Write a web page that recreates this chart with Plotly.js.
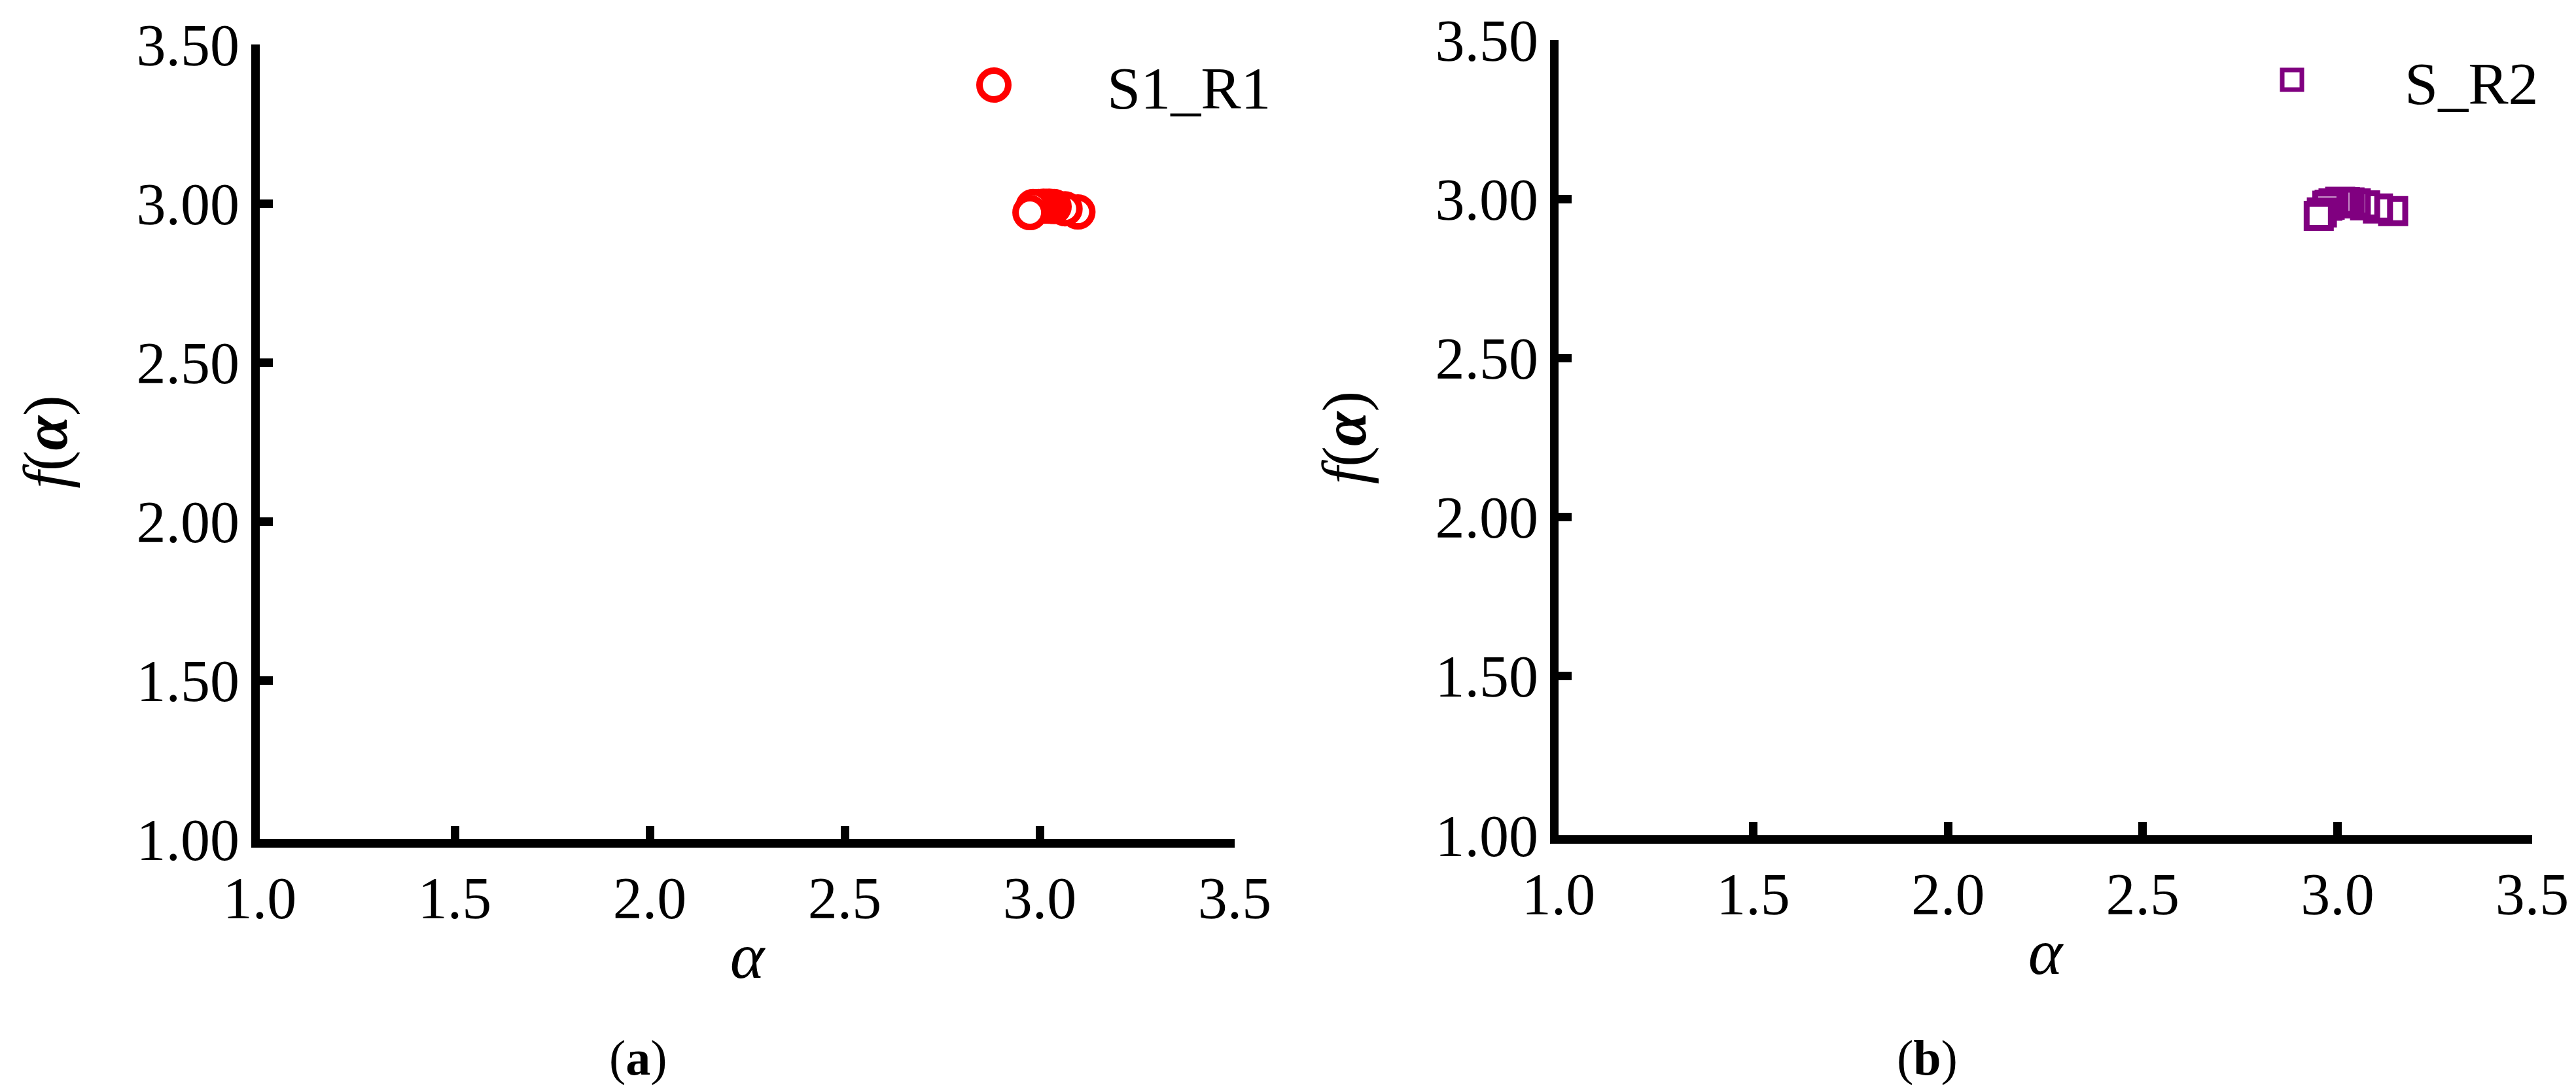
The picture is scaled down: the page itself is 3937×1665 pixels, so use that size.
<!DOCTYPE html>
<html>
<head>
<meta charset="utf-8">
<script src="https://cdn.plot.ly/plotly-3.0.1.min.js"></script>
<style>
  html, body { margin: 0; padding: 0; background: #fff; }
  #vis { width: 3937px; height: 1665px; }
</style>
</head>
<body>
<div id="vis"></div>
<script>
// multifractal spectrum points, drawn from large alpha to small alpha
const alphaS1R1 = [3.098, 3.065, 3.037, 3.024, 3.010, 2.997, 2.983, 2.975]
const fS1R1     = [2.973, 2.983, 2.990, 2.991, 2.991, 2.990, 2.990, 2.971]

const alphaSR2 = [3.143, 3.104, 3.071, 3.047, 3.031, 3.019, 3.007, 2.990, 2.980, 2.974, 2.960, 2.952]
const fSR2     = [2.962, 2.970, 2.980, 2.986, 2.989, 2.990, 2.991, 2.986, 2.982, 2.979, 2.958, 2.947]

const xTicks = [1.0, 1.5, 2.0, 2.5, 3.0, 3.5]
const yTicks = [1.0, 1.5, 2.0, 2.5, 3.0, 3.5]
const seriesNames = ['S1_R1', 'S_R2']
const panelLabels = ['(<b>a</b>)', '(<b>b</b>)']

const W = 3937, H = 1665
const serif = 'Liberation Serif'

const trace1 = {
  x: alphaS1R1,
  y: fS1R1,
  xaxis: 'x', yaxis: 'y',
  type: 'scatter',
  mode: 'markers',
  name: seriesNames[0],
  marker: { symbol: 'circle', size: 44, color: '#ffffff', line: { color: '#ff0000', width: 10 } }
}

const trace2 = {
  x: alphaSR2,
  y: fSR2,
  xaxis: 'x2', yaxis: 'y2',
  type: 'scatter',
  mode: 'markers',
  name: seriesNames[1],
  marker: { symbol: 'square', size: 37, color: '#ffffff', line: { color: '#800080', width: 9 } }
}

function xAxis(domain, anchor) {
  return {
    domain: domain, anchor: anchor,
    range: [1, 3.5], tickvals: xTicks, tickformat: '.1f',
    showgrid: false, zeroline: false,
    showline: true, linecolor: '#000', linewidth: 13,
    ticks: 'inside', ticklen: 20, tickwidth: 13, tickcolor: '#000',
    tickfont: { family: serif, size: 90, color: '#000' },
    title: { text: '<i>α</i>', font: { family: serif, size: 100, color: '#000' }, standoff: 8 }
  }
}

function yAxis(domain, anchor) {
  return {
    domain: domain, anchor: anchor,
    range: [1, 3.5], tickvals: yTicks, tickformat: '.2f',
    showgrid: false, zeroline: false,
    showline: true, linecolor: '#000', linewidth: 13,
    ticks: 'inside', ticklen: 20, tickwidth: 13, tickcolor: '#000',
    tickfont: { family: serif, size: 90, color: '#000' },
    title: { text: '<i>f</i>(<b><i>α</i></b>)', font: { family: serif, size: 95, color: '#000' }, standoff: 80 }
  }
}

const px = v => v / W
const py = v => 1 - v / H

const layout = {
  width: W, height: H,
  margin: { l: 0, r: 0, t: 0, b: 0 },
  paper_bgcolor: '#fff', plot_bgcolor: '#fff',
  showlegend: false,
  xaxis: xAxis([px(397), px(1887)], 'y'),
  yaxis: yAxis([py(1283), py(68)], 'x'),
  xaxis2: xAxis([px(2382), px(3870)], 'y2'),
  yaxis2: yAxis([py(1277), py(61)], 'x2'),
  // hand-drawn legend symbols (plotly caps legend marker size)
  shapes: [
    { type: 'circle', xref: 'paper', yref: 'paper',
      x0: px(1519 - 22), x1: px(1519 + 22), y0: py(130 + 22), y1: py(130 - 22),
      line: { color: '#ff0000', width: 10 }, fillcolor: '#ffffff' },
    { type: 'rect', xref: 'paper', yref: 'paper',
      x0: px(3503 - 15), x1: px(3503 + 15), y0: py(122 + 15), y1: py(122 - 15),
      line: { color: '#800080', width: 7 }, fillcolor: '#ffffff' }
  ],
  annotations: [
    { text: seriesNames[0], xref: 'paper', yref: 'paper', x: px(1690), y: py(135),
      xanchor: 'left', yanchor: 'middle', showarrow: false,
      font: { family: serif, size: 92, color: '#000' } },
    { text: seriesNames[1], xref: 'paper', yref: 'paper', x: px(3673), y: py(128),
      xanchor: 'left', yanchor: 'middle', showarrow: false,
      font: { family: serif, size: 92, color: '#000' } },
    { text: panelLabels[0], xref: 'paper', yref: 'paper', x: px(975), y: py(1617),
      xanchor: 'center', yanchor: 'middle', showarrow: false,
      font: { family: serif, size: 76, color: '#000' } },
    { text: panelLabels[1], xref: 'paper', yref: 'paper', x: px(2945), y: py(1617),
      xanchor: 'center', yanchor: 'middle', showarrow: false,
      font: { family: serif, size: 76, color: '#000' } }
  ]
}

Plotly.newPlot('vis', [trace1, trace2], layout, { staticPlot: true, displayModeBar: false })
</script>
</body>
</html>
